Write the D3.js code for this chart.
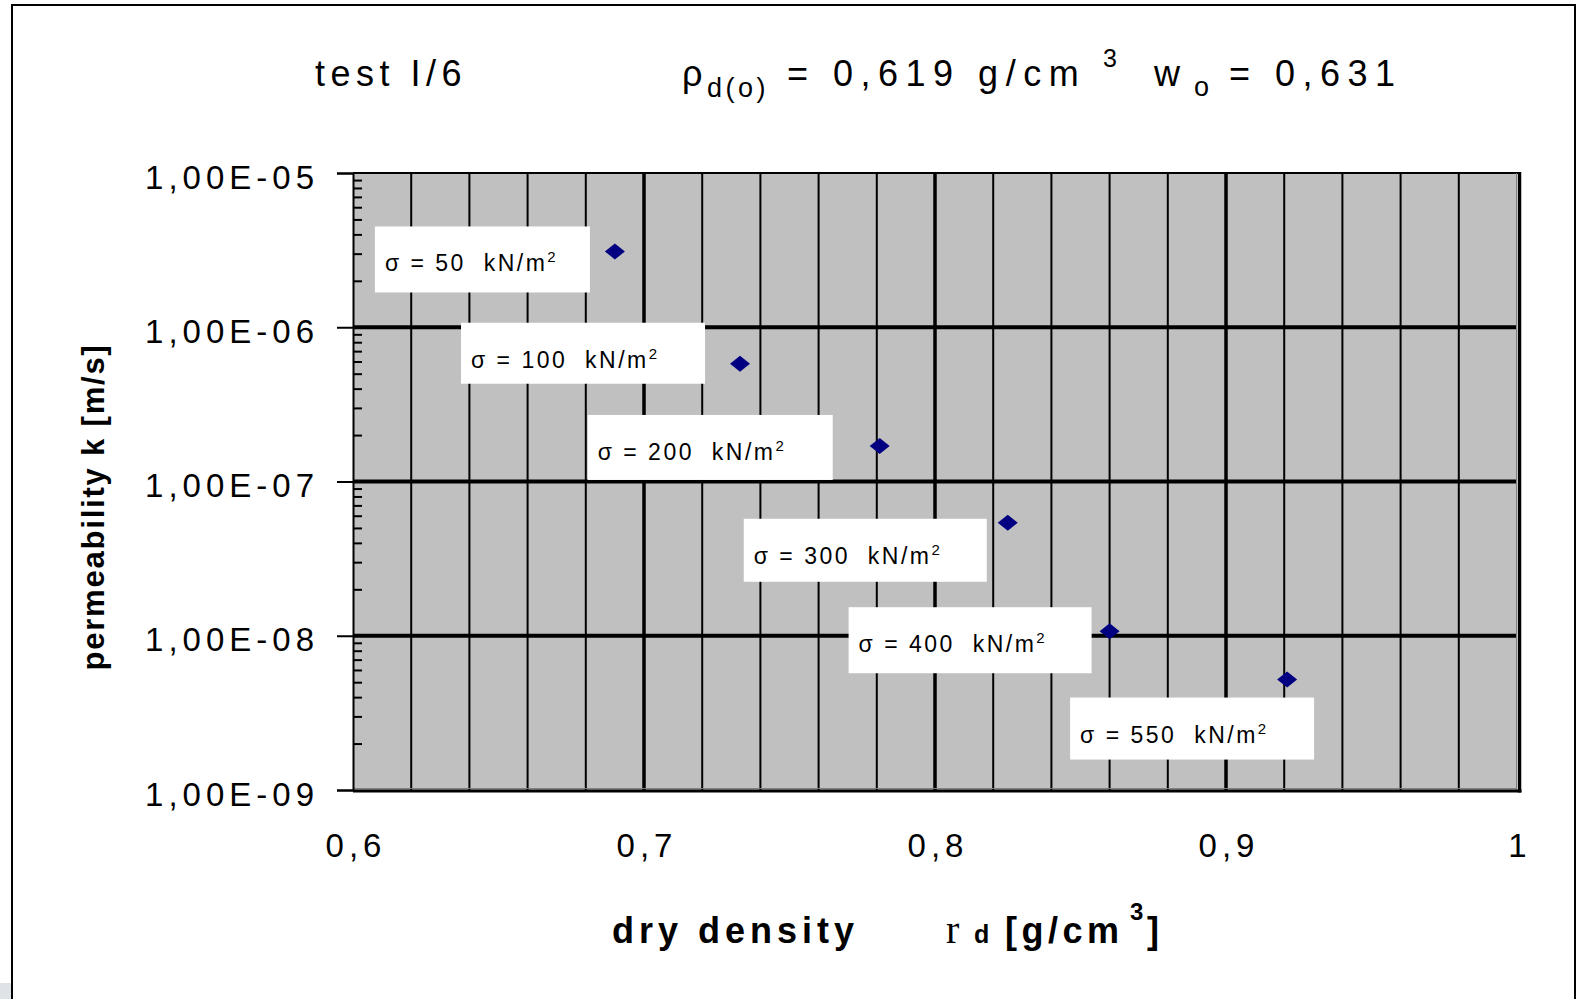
<!DOCTYPE html>
<head>
    <meta charset="utf-8">
    <script src="https://d3js.org/d3.v7.min.js"></script>
    <style>
        body { margin: 0; background: #fff; }
        svg text { font-family: "Liberation Sans", Arial, sans-serif; fill: #000; }
        .tick-y text, .tick-x text { font-size: 33px; letter-spacing: 5px; }
        .label-text { font-size: 23px; letter-spacing: 2.5px; }
    </style>
</head>

<body>
    <div id='chart-container'></div>
</body>

<script>
    // data
    var density = [0.690, 0.733, 0.781, 0.825, 0.860, 0.921];
    var permeability = [3.1e-6, 5.8e-7, 1.7e-7, 5.4e-8, 1.07e-8, 5.2e-9];
    var stress = [50, 100, 200, 300, 400, 550];
    var xTicks = [0.6, 0.7, 0.8, 0.9, 1];
    var yTicks = [1e-9, 1e-8, 1e-7, 1e-6, 1e-5];

    // where each white label box sits relative to its point (pixels)
    var labelBoxes = [
        {dx: -240, dy: -25, w: 215, h: 66},
        {dx: -279, dy: -41, w: 244, h: 61},
        {dx: -292, dy: -31, w: 245, h: 65},
        {dx: -264, dy: -4,  w: 243, h: 63},
        {dx: -261, dy: -24, w: 243, h: 66},
        {dx: -217, dy: 18,  w: 244, h: 62}
    ];

    var points = density.map(function(d, i) {
        return {x: d, k: permeability[i], s: stress[i], box: labelBoxes[i]};
    });

    var W = 1581, H = 999;
    var plot = {left: 353, right: 1517, top: 173, bottom: 790};

    var svg = d3.select("#chart-container").append("svg")
        .attr("width", W)
        .attr("height", H);

    var x = d3.scaleLinear().domain([0.6, 1.0]).range([plot.left, plot.right]);
    var y = d3.scaleLog().domain([1e-9, 1e-5]).range([plot.bottom, plot.top]);

    // outer frame
    svg.append("rect")
        .attr("x", 12).attr("y", 5)
        .attr("width", 1563).attr("height", 1100)
        .attr("fill", "none").attr("stroke", "#000").attr("stroke-width", 2);
    svg.append("rect")
        .attr("x", 0).attr("y", 983).attr("width", 11).attr("height", 16)
        .attr("fill", "#dfe3e8");

    // plot background
    svg.append("rect")
        .attr("x", plot.left).attr("y", plot.top)
        .attr("width", plot.right - plot.left)
        .attr("height", plot.bottom - plot.top)
        .attr("fill", "#c0c0c0");

    var isMajor = function(v) { return Math.abs(v * 10 - Math.round(v * 10)) < 1e-6; };

    // vertical grid
    var vTicks = x.ticks(20);
    svg.append("g").selectAll("line")
        .data(vTicks.filter(function(v) { return !isMajor(v) && v < 1; }))
        .enter().append("line")
        .attr("x1", function(d) { return x(d); }).attr("x2", function(d) { return x(d); })
        .attr("y1", plot.top).attr("y2", plot.bottom)
        .attr("stroke", "#000").attr("stroke-width", 2);
    svg.append("g").selectAll("line")
        .data(xTicks.filter(function(v) { return v > 0.6 && v < 1; }))
        .enter().append("line")
        .attr("x1", function(d) { return x(d); }).attr("x2", function(d) { return x(d); })
        .attr("y1", plot.top).attr("y2", plot.bottom)
        .attr("stroke", "#000").attr("stroke-width", 3.5);

    // horizontal decade grid
    svg.append("g").selectAll("line")
        .data(yTicks.slice(1, -1))
        .enter().append("line")
        .attr("x1", plot.left).attr("x2", plot.right)
        .attr("y1", function(d) { return y(d); }).attr("y2", function(d) { return y(d); })
        .attr("stroke", "#000").attr("stroke-width", 4);

    // top line
    svg.append("line")
        .attr("x1", plot.left).attr("x2", plot.right + 2)
        .attr("y1", plot.top).attr("y2", plot.top)
        .attr("stroke", "#000").attr("stroke-width", 2);

    // bottom / right edges with a grey shadow line
    svg.append("line")
        .attr("x1", plot.left).attr("x2", plot.right)
        .attr("y1", plot.bottom - 1.5).attr("y2", plot.bottom - 1.5)
        .attr("stroke", "#808080").attr("stroke-width", 1);
    svg.append("line")
        .attr("x1", plot.right - 0.5).attr("x2", plot.right - 0.5)
        .attr("y1", plot.top).attr("y2", plot.bottom)
        .attr("stroke", "#808080").attr("stroke-width", 1);
    svg.append("line")
        .attr("x1", plot.left).attr("x2", plot.right + 4.5)
        .attr("y1", plot.bottom + 1).attr("y2", plot.bottom + 1)
        .attr("stroke", "#000").attr("stroke-width", 3);
    svg.append("line")
        .attr("x1", plot.right + 2.5).attr("x2", plot.right + 2.5)
        .attr("y1", plot.top - 1).attr("y2", plot.bottom + 2.5)
        .attr("stroke", "#000").attr("stroke-width", 3.5);

    // y axis: decade ticks and labels
    var fmtE = function(d) {
        var e = Math.round(Math.log10(d));
        return "1,00E" + (e < 0 ? "-" : "+") + String(Math.abs(e)).padStart(2, "0");
    };
    var yAxis = d3.axisLeft(y).tickValues(yTicks).tickSize(16).tickPadding(18).tickFormat(fmtE);
    var gy = svg.append("g")
        .attr("class", "tick-y")
        .attr("transform", "translate(" + plot.left + ",0)")
        .call(yAxis);
    gy.select(".domain").attr("stroke", "#000").attr("stroke-width", 2);
    gy.selectAll(".tick line").attr("stroke", "#000").attr("stroke-width", 2);
    gy.selectAll(".tick text").attr("font-size", null).attr("font-family", null)
        .attr("dy", "0.46em").attr("fill", "#000");

    // minor ticks inside the plot
    var minor = y.ticks().filter(function(v) {
        return Math.abs(Math.log10(v) - Math.round(Math.log10(v))) > 1e-6;
    });
    var gMinor = svg.append("g")
        .attr("transform", "translate(" + plot.left + ",0)")
        .call(d3.axisLeft(y).tickValues(minor).tickSize(-9).tickFormat(""));
    gMinor.select(".domain").remove();
    gMinor.selectAll(".tick line").attr("stroke", "#000").attr("stroke-width", 2);

    // x axis labels
    var xAxis = d3.axisBottom(x).tickValues(xTicks).tickSize(0).tickPadding(44)
        .tickFormat(function(d) { return String(d).replace(".", ","); });
    var gx = svg.append("g")
        .attr("class", "tick-x")
        .attr("transform", "translate(0," + plot.bottom + ")")
        .call(xAxis);
    gx.select(".domain").remove();
    gx.selectAll(".tick text").attr("font-size", null).attr("font-family", null)
        .attr("fill", "#000").attr("dx", "2.5px");

    // label boxes
    var labels = svg.append("g").selectAll("g")
        .data(points)
        .enter().append("g")
        .attr("transform", function(d) {
            return "translate(" + (x(d.x) + d.box.dx) + "," + (y(d.k) + d.box.dy) + ")";
        });
    labels.append("rect")
        .attr("width", function(d) { return d.box.w; })
        .attr("height", function(d) { return d.box.h; })
        .attr("fill", "#fff");
    var lt = labels.append("text")
        .attr("class", "label-text")
        .attr("x", 10)
        .attr("y", 45);
    lt.append("tspan").text(function(d) { return "\u03c3 = " + d.s + "  kN/m"; })
        .attr("xml:space", "preserve");
    lt.append("tspan").text("2").attr("font-size", "15px").attr("dy", -9);

    // markers
    svg.append("g").selectAll("path")
        .data(points)
        .enter().append("path")
        .attr("d", "M-10,0L0,-8L10,0L0,8Z")
        .attr("fill", "#000080")
        .attr("transform", function(d) { return "translate(" + x(d.x) + "," + y(d.k) + ")"; });

    // title
    var title = svg.append("g").attr("font-size", "36px").attr("letter-spacing", "7.5px");
    title.append("text").attr("x", 315).attr("y", 86).attr("letter-spacing", "5.5px").text("test I/6");
    title.append("text").attr("x", 682).attr("y", 86).text("\u03c1");
    title.append("text").attr("x", 707).attr("y", 97).attr("font-size", "27px")
        .attr("letter-spacing", "3.5px").text("d(o)");
    title.append("text").attr("x", 787).attr("y", 86).text("= 0,619 g/cm");
    title.append("text").attr("x", 1103).attr("y", 67).attr("font-size", "25px").text("3");
    title.append("text").attr("x", 1154).attr("y", 86).text("w");
    title.append("text").attr("x", 1194).attr("y", 96).attr("font-size", "27px").text("o");
    title.append("text").attr("x", 1229).attr("y", 86).text("= 0,631");

    // x axis title
    var xt = svg.append("g").attr("font-weight", "bold");
    xt.append("text").attr("x", 612).attr("y", 943).attr("font-size", "36px")
        .attr("letter-spacing", "5px").text("dry density");
    xt.append("text").attr("x", 946).attr("y", 943).attr("font-size", "40px")
        .attr("font-weight", "normal").style("font-family", "'Liberation Serif', 'Times New Roman', serif")
        .text("r");
    xt.append("text").attr("x", 974).attr("y", 943).attr("font-size", "25px").text("d");
    xt.append("text").attr("x", 1005).attr("y", 943).attr("font-size", "36px")
        .attr("letter-spacing", "4.5px").text("[g/cm");
    xt.append("text").attr("x", 1130).attr("y", 920).attr("font-size", "24px").text("3");
    xt.append("text").attr("x", 1147).attr("y", 943).attr("font-size", "36px").text("]");

    // y axis title
    svg.append("text")
        .attr("transform", "translate(104,507) rotate(-90)")
        .attr("text-anchor", "middle")
        .attr("font-weight", "bold")
        .attr("font-size", "31px")
        .attr("letter-spacing", "1.8px")
        .text("permeability k [m/s]");
</script>
